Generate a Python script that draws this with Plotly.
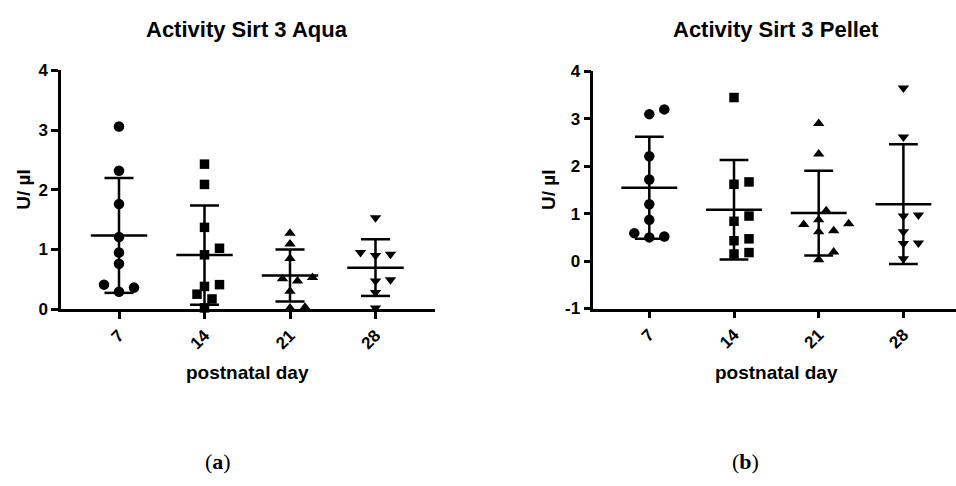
import plotly.graph_objects as go

W, H = 956, 486

days = ["7", "14", "21", "28"]
symbols = ["circle", "square", "triangle-up", "triangle-down"]

aqua_d7 = [3.06, 2.32, 1.76, 1.21, 0.95, 0.76, 0.41, 0.36, 0.29]
aqua_d14 = [2.43, 2.09, 1.37, 1.02, 0.91, 0.41, 0.38, 0.25, 0.17, 0.02]
aqua_d21 = [1.27, 1.09, 0.85, 0.47, 0.53, 0.51, 0.30, 0.02, 0.03]
aqua_d28 = [1.53, 0.95, 0.92, 0.90, 0.49, 0.47, 0.28, 0.02]

pellet_d7 = [3.20, 3.10, 2.21, 1.72, 1.20, 0.87, 0.59, 0.50, 0.52]
pellet_d14 = [3.45, 1.67, 1.62, 0.95, 0.84, 0.47, 0.43, 0.15, 0.18]
pellet_d21 = [2.90, 2.26, 1.06, 0.79, 0.64, 0.62, 0.77, 0.87, 0.19, 0.03]
pellet_d28 = [3.65, 2.62, 0.97, 0.95, 0.62, 0.38, 0.37, 0.05]

panels = [
    dict(title="Activity Sirt 3 Aqua", groups=[aqua_d7, aqua_d14, aqua_d21, aqua_d28],
         ytickvals=[0, 1, 2, 3, 4], yrange=[0, 4], label="(<b>a</b>)"),
    dict(title="Activity Sirt 3 Pellet", groups=[pellet_d7, pellet_d14, pellet_d21, pellet_d28],
         ytickvals=[-1, 0, 1, 2, 3, 4], yrange=[-1, 4], label="(<b>b</b>)"),
]

# pixel layout
layout_px = [
    dict(x0=61, x1=435, ytop=64, ybot=312.3, xfirst=119, xstep=85.5, ylab=24, lab=218),
    dict(x0=593.3, x1=956, ytop=65, ybot=311.7, xfirst=649.3, xstep=84.7, ylab=549, lab=745),
]

FONT = "Liberation Sans, Arial, sans-serif"


def mean_sd(v):
    n = len(v)
    m = sum(v) / n
    s = (sum((x - m) ** 2 for x in v) / (n - 1)) ** 0.5
    return m, s


def swarm(vals, ypx, xpx, diam=11.0, step=7.5):
    placed = []
    offs = [0.0] * len(vals)
    order = sorted(range(len(vals)), key=lambda i: vals[i])
    cands = [0.0]
    for j in range(1, 12):
        cands += [j * step, -j * step]
    for i in order:
        y = vals[i] * ypx
        chosen = cands[-1]
        for c in cands:
            if all((c - px) ** 2 + (y - py) ** 2 >= diam ** 2 for px, py in placed):
                chosen = c
                break
        placed.append((chosen, y))
        offs[i] = chosen / xpx
    return offs


fig = go.Figure()
annotations = []

for p, (panel, lp) in enumerate(zip(panels, layout_px)):
    xa = "x" if p == 0 else "x2"
    ya = "y" if p == 0 else "y2"
    yr = panel["yrange"]
    ypx = (lp["ybot"] - lp["ytop"]) / (yr[1] - yr[0])
    xpx = lp["xstep"]
    xr = [-(lp["xfirst"] - lp["x0"]) / xpx, (lp["x1"] - lp["xfirst"]) / xpx]

    for g, vals in enumerate(panel["groups"]):
        offs = swarm(vals, ypx, xpx)
        xs = [g + o for o in offs]
        sym = symbols[g]
        size = {"circle": 10.5, "square": 9.5, "triangle-up": 10, "triangle-down": 10}[sym]
        fig.add_trace(go.Scatter(
            x=xs, y=vals, mode="markers", xaxis=xa, yaxis=ya,
            marker=dict(symbol=sym, size=size, color="black", line=dict(width=0)),
            cliponaxis=False, showlegend=False, hoverinfo="y"))
        m, s = mean_sd(vals)
        mw, cw = 0.33, 0.17
        lx = [g - mw, g + mw, None, g - cw, g + cw, None, g - cw, g + cw, None, g, g]
        ly = [m, m, None, m + s, m + s, None, m - s, m - s, None, m - s, m + s]
        fig.add_trace(go.Scatter(
            x=lx, y=ly, mode="lines", xaxis=xa, yaxis=ya,
            line=dict(color="black", width=2.5), cliponaxis=False,
            showlegend=False, hoverinfo="skip"))

    dom_x = [lp["x0"] / W, min(lp["x1"] / W, 1.0)]
    dom_y = [1 - lp["ybot"] / H, 1 - lp["ytop"] / H]
    xkey = "xaxis" if p == 0 else "xaxis2"
    ykey = "yaxis" if p == 0 else "yaxis2"
    tickfont = dict(family=FONT, size=17, color="black")
    fig.update_layout(**{
        xkey: dict(domain=dom_x, range=xr, anchor=ya, tickmode="array",
                   tickvals=[0, 1, 2, 3], ticktext=["<b>%s</b>" % d for d in days],
                   tickangle=-45,
                   showgrid=False, zeroline=False, showline=True, linecolor="black",
                   linewidth=2.5, ticks="outside", ticklen=7, tickwidth=2.5,
                   tickcolor="black", tickfont=tickfont),
        ykey: dict(domain=dom_y, range=yr, anchor=xa, tickmode="array",
                   tickvals=panel["ytickvals"],
                   ticktext=["<b>%d</b>" % v for v in panel["ytickvals"]],
                   showgrid=False, zeroline=False, showline=True, linecolor="black",
                   linewidth=2.5, ticks="outside", ticklen=7, tickwidth=2.5,
                   tickcolor="black", tickfont=tickfont),
    })

    cx = lp["xfirst"] + 1.5 * xpx
    common = dict(xref="paper", yref="paper", showarrow=False,
                  xanchor="center", yanchor="middle")
    annotations.append(dict(text="<b>" + panel["title"] + "</b>", x=cx / W, y=1 - 21 / H,
                            font=dict(family=FONT, size=22, color="black"), **common))
    annotations.append(dict(text="<b>postnatal day</b>", x=cx / W, y=1 - 378 / H,
                            font=dict(family=FONT, size=19, color="black"), **common))
    annotations.append(dict(text="<b>U/ µl</b>", x=lp["ylab"] / W,
                            y=1 - ((lp["ytop"] + lp["ybot"]) / 2) / H, textangle=-90,
                            font=dict(family=FONT, size=19, color="black"), **common))
    annotations.append(dict(text=panel["label"], x=lp["lab"] / W, y=1 - 471 / H,
                            font=dict(family="Liberation Serif, Times New Roman, serif",
                                      size=22, color="black"), **common))

fig.update_layout(width=W, height=H, margin=dict(l=0, r=0, t=0, b=0),
                  paper_bgcolor="white", plot_bgcolor="white",
                  annotations=annotations, showlegend=False)

fig.write_html("out.html")
